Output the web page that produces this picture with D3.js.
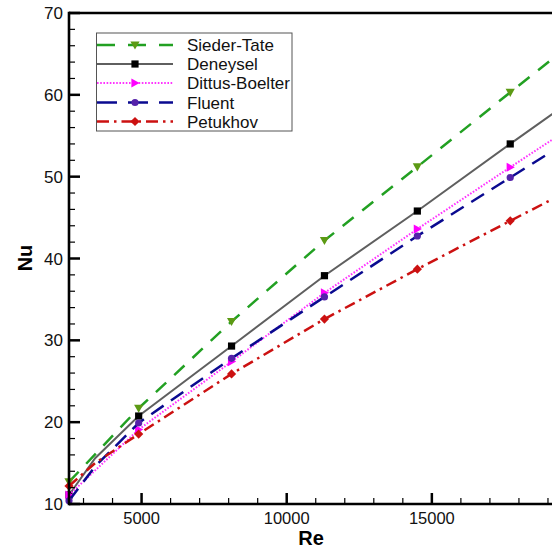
<!doctype html>
<html>
<head>
<meta charset="utf-8"/>
<title>Nu vs Re</title>
<style>
body{margin:0;background:#fff;}
svg{display:block;font-family:"Liberation Sans",Arial,sans-serif;}
</style>
<script src="https://d3js.org/d3.v7.min.js"></script>
</head>
<body>
<script>
// data
var names = ["Sieder-Tate", "Deneysel", "Dittus-Boelter", "Fluent", "Petukhov"];
var reSieder = [2500, 4900, 8100, 11300, 14500, 17700, 20000];
var nuSieder = [12.7, 21.7, 32.3, 42.2, 51.2, 60.3, 66.8];
var reDeney = [2500, 3400, 4900, 8100, 11300, 14500, 17700, 20000];
var nuDeney = [11.1, 15.6, 20.75, 29.3, 37.9, 45.8, 54.0, 59.8];
var reDittus = [2500, 4900, 8100, 11300, 14500, 17700, 20000];
var nuDittus = [11.1, 19.1, 27.4, 35.8, 43.6, 51.15, 56.5];
var reFluent = [2500, 3400, 4900, 8100, 11300, 14500, 17700, 20000];
var nuFluent = [10.4, 14.6, 19.9, 27.8, 35.3, 42.75, 49.9, 55.0];
var rePetuk = [2500, 3400, 4900, 8100, 11300, 14500, 17700, 20000];
var nuPetuk = [12.2, 15.0, 18.55, 25.9, 32.6, 38.7, 44.6, 48.8];
var markerRe = [2500, 4900, 8100, 11300, 14500, 17700];
var xTicks = [5000, 10000, 15000];
var yTicks = [10, 20, 30, 40, 50, 60, 70];

var W = 552, H = 549;
var padL = 69, padT = 13, padB = 504, padR = 577;

var svg = d3.select("body").append("svg")
  .attr("width", W).attr("height", H);

var x = d3.scaleLinear().domain([2500, 20000]).range([padL, padR]);
var y = d3.scaleLinear().domain([10, 70]).range([padB, padT]);

var styles = [
  {color:"#22a022", mcol:"#5c9a14", dash:"14,11", w:2.5, marker:"down"},
  {color:"#5f5f5f", mcol:"#000000", dash:null, w:2, marker:"square"},
  {color:"#ff33ff", mcol:"#ff00ff", dash:"1.6,1.6", w:2, marker:"right"},
  {color:"#0a0a90", mcol:"#5522aa", dash:"15,9", w:2.5, marker:"circle"},
  {color:"#cc1111", mcol:"#cc1111", dash:"11,5,2.5,5", w:2.5, marker:"diamond"}
];

var series = [
  {re:reSieder, nu:nuSieder},
  {re:reDeney, nu:nuDeney},
  {re:reDittus, nu:nuDittus},
  {re:reFluent, nu:nuFluent},
  {re:rePetuk, nu:nuPetuk}
];

svg.append("clipPath").attr("id", "clip")
  .append("rect").attr("x", padL - 6).attr("y", padT).attr("width", padR - padL + 6).attr("height", padB - padT + 6);

function markerPath(kind, s) {
  if (kind == "square") return "M" + (-s) + "," + (-s) + "h" + 2*s + "v" + 2*s + "h" + (-2*s) + "Z";
  if (kind == "down") return "M" + (-s-1) + "," + (-s) + "L" + (s+1) + "," + (-s) + "L0," + (s+1) + "Z";
  if (kind == "right") return "M" + (-s) + "," + (-s-1) + "L" + (s+1) + ",0L" + (-s) + "," + (s+1) + "Z";
  if (kind == "diamond") return "M0," + (-s-1) + "L" + (s+1) + ",0L0," + (s+1) + "L" + (-s-1) + ",0Z";
  return d3.symbol(d3.symbolCircle, Math.PI*s*s)();
}

var line = d3.line().x(function(d){return x(d[0]);}).y(function(d){return y(d[1]);});

var g = svg.append("g").attr("clip-path", "url(#clip)");

series.forEach(function(sr, i){
  var st = styles[i];
  var pts = sr.re.map(function(r, k){ return [r, sr.nu[k]]; });
  g.append("path")
    .attr("d", line(pts))
    .attr("fill", "none")
    .attr("stroke", st.color)
    .attr("stroke-width", st.w)
    .attr("stroke-dasharray", st.dash);
  var mk = pts.filter(function(p){ return markerRe.indexOf(p[0]) >= 0; });
  g.selectAll(null).data(mk).enter().append("path")
    .attr("transform", function(d){ return "translate(" + x(d[0]) + "," + y(d[1]) + ")"; })
    .attr("d", markerPath(st.marker, 3.6))
    .attr("fill", st.mcol);
});

// axes
var yMinor = d3.range(10, 71, 2);
var xMinor = d3.range(3000, 20001, 1000);

svg.selectAll(null).data(yMinor).enter().append("line")
  .attr("x1", padL).attr("x2", function(d){ return yTicks.indexOf(d) >= 0 ? padL + 11 : padL + 6; })
  .attr("y1", function(d){return y(d);}).attr("y2", function(d){return y(d);})
  .attr("stroke", "#000").attr("stroke-width", function(d){ return yTicks.indexOf(d) >= 0 ? 2.5 : 1.2; });

svg.selectAll(null).data(xMinor).enter().append("line")
  .attr("y1", padB).attr("y2", function(d){ return xTicks.indexOf(d) >= 0 ? padB - 11 : padB - 6; })
  .attr("x1", function(d){return x(d);}).attr("x2", function(d){return x(d);})
  .attr("stroke", "#000").attr("stroke-width", function(d){ return xTicks.indexOf(d) >= 0 ? 2.5 : 1.2; });

svg.append("line").attr("x1", padL).attr("x2", padL).attr("y1", padT - 1.3).attr("y2", padB + 1.3)
  .attr("stroke", "#000").attr("stroke-width", 2.6);
svg.append("line").attr("x1", padL).attr("x2", W).attr("y1", padB).attr("y2", padB)
  .attr("stroke", "#000").attr("stroke-width", 2.6);
svg.append("line").attr("x1", padL).attr("x2", W).attr("y1", padT).attr("y2", padT)
  .attr("stroke", "#000").attr("stroke-width", 2.6);

svg.selectAll(null).data(yTicks).enter().append("text")
  .attr("x", padL - 6).attr("y", function(d){ return y(d) + 6; })
  .attr("text-anchor", "end").attr("font-size", 17).attr("fill", "#111")
  .text(function(d){return d;});

svg.selectAll(null).data(xTicks).enter().append("text")
  .attr("x", function(d){return x(d);}).attr("y", 523.5)
  .attr("text-anchor", "middle").attr("font-size", 16.5).attr("fill", "#111")
  .text(function(d){return d;});

svg.append("text").attr("x", 311).attr("y", 545)
  .attr("text-anchor", "middle").attr("font-size", 20).attr("font-weight", "bold")
  .text("Re");
svg.append("text").attr("transform", "translate(32,258) rotate(-90)")
  .attr("text-anchor", "middle").attr("font-size", 20).attr("font-weight", "bold")
  .text("Nu");

// legend
var lg = svg.append("g");
lg.append("rect").attr("x", 96.5).attr("y", 33).attr("width", 195.5).attr("height", 98)
  .attr("fill", "#fff").attr("stroke", "#555").attr("stroke-width", 1);
var rowY = [45, 64, 83, 102.5, 121.5];
var legDash = ["18,13", null, "1.6,1.6", "20,11", "12,5,2.5,5"];
names.forEach(function(n, i){
  var st = styles[i];
  lg.append("line").attr("x1", 97).attr("x2", 173).attr("y1", rowY[i]).attr("y2", rowY[i])
    .attr("stroke", st.color).attr("stroke-width", st.w).attr("stroke-dasharray", legDash[i]);
  lg.append("path").attr("transform", "translate(135," + rowY[i] + ")")
    .attr("d", markerPath(st.marker, 3.6)).attr("fill", st.mcol);
  lg.append("text").attr("x", 187).attr("y", rowY[i] + 6)
    .attr("font-size", 17).attr("fill", "#111").text(n);
});
</script>
</body>
</html>
